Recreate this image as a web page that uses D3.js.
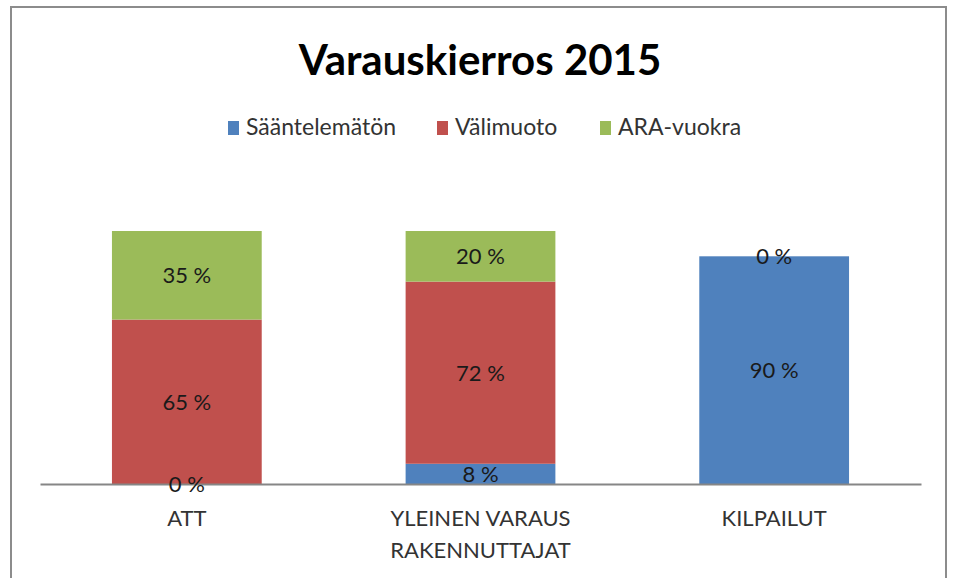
<!DOCTYPE html>
<html>
<head>
<meta charset="utf-8">
<script src="https://cdn.jsdelivr.net/npm/d3@7"></script>
<style>
  body { margin: 0; background: #fff; }
  text { font-family: Lato, "Open Sans", sans-serif; }
</style>
</head>
<body>
<div id="vis"></div>
<script>
const FRAME_WIDTH = 955;
const FRAME_HEIGHT = 578;
const MARGINS = {left: 40, right: 34, top: 231, bottom: 94};

// data
const categories = ["ATT", "YLEINEN VARAUS|RAKENNUTTAJAT", "KILPAILUT"];
const seriesNames = ["Sääntelemätön", "Välimuoto", "ARA-vuokra"];
const saantelematon = [0, 8, 90];
const valimuoto = [65, 72, 0];
const araVuokra = [35, 20, 0];
const COLORS = ["#4F81BD", "#C0504D", "#9BBB59"];

const table = categories.map((c, i) => ({
  cat: c,
  "Sääntelemätön": saantelematon[i],
  "Välimuoto": valimuoto[i],
  "ARA-vuokra": araVuokra[i]
}));

const stacked = d3.stack().keys(seriesNames)(table);

const svg = d3.select("#vis")
  .append("svg")
    .attr("width", FRAME_WIDTH)
    .attr("height", FRAME_HEIGHT);

// chart frame
svg.append("rect")
  .attr("x", 11).attr("y", 7)
  .attr("width", 935).attr("height", 590)
  .attr("fill", "#fff")
  .attr("stroke", "#8c8c8c")
  .attr("stroke-width", 2);

const X_SCALE = d3.scaleBand()
  .domain(categories)
  .range([MARGINS.left, FRAME_WIDTH - MARGINS.right])
  .paddingInner(0.49)
  .paddingOuter(0.245);

const Y_SCALE = d3.scaleLinear()
  .domain([0, 100])
  .range([FRAME_HEIGHT - MARGINS.bottom, MARGINS.top]);

// bars
const layers = svg.selectAll(".layer")
  .data(stacked)
  .enter()
  .append("g")
    .attr("fill", (d, i) => COLORS[i]);

layers.selectAll("rect")
  .data(d => d)
  .enter()
  .append("rect")
    .attr("x", d => X_SCALE(d.data.cat))
    .attr("y", d => Y_SCALE(d[1]))
    .attr("width", X_SCALE.bandwidth())
    .attr("height", d => Y_SCALE(d[0]) - Y_SCALE(d[1]));

// x axis, line only
const xAxis = svg.append("g")
  .attr("transform", "translate(0," + Y_SCALE(0) + ")")
  .call(d3.axisBottom(X_SCALE).tickSize(0).tickPadding(0));

xAxis.select(".domain")
  .attr("stroke", "#868686")
  .attr("stroke-width", 2);

xAxis.selectAll(".tick text").remove();
xAxis.selectAll(".tick").each(function(d) {
  const t = d3.select(this).append("text")
    .attr("fill", "#333")
    .attr("font-size", 22)
    .attr("text-anchor", "middle");
  d.split("|").forEach((line, k) => {
    t.append("tspan")
      .attr("x", 0)
      .attr("y", 42 + k * 32)
      .text(line);
  });
});

// value labels, drawn over all bars
const labels = svg.append("g");
stacked.forEach((layer, li) => {
  labels.selectAll(".val" + li)
    .data(layer)
    .enter()
    .append("text")
      .attr("x", d => X_SCALE(d.data.cat) + X_SCALE.bandwidth() / 2)
      .attr("y", d => (Y_SCALE(d[0]) + Y_SCALE(d[1])) / 2 + 8)
      .attr("text-anchor", "middle")
      .attr("font-size", 22)
      .attr("fill", "#1a1a1a")
      .text(d => (d[1] - d[0]) + " %")
      // the red 0 % of KILPAILUT sits under the green one
      .style("display", d => (li === 1 && d[1] - d[0] === 0) ? "none" : null);
});

// title
svg.append("text")
  .attr("x", 480)
  .attr("y", 75)
  .attr("text-anchor", "middle")
  .attr("font-size", 42)
  .attr("font-weight", "bold")
  .attr("fill", "#000")
  .text("Varauskierros 2015");

// legend
const legendX = [228, 437, 600];
const legend = svg.selectAll(".legend")
  .data(seriesNames)
  .enter()
  .append("g")
    .attr("transform", (d, i) => "translate(" + legendX[i] + ",121)");

legend.append("rect")
  .attr("width", 11)
  .attr("height", 14)
  .attr("fill", (d, i) => COLORS[i]);

legend.append("text")
  .attr("x", 18)
  .attr("y", 14)
  .attr("font-size", 23)
  .attr("fill", "#333")
  .text(d => d);
</script>
</body>
</html>
